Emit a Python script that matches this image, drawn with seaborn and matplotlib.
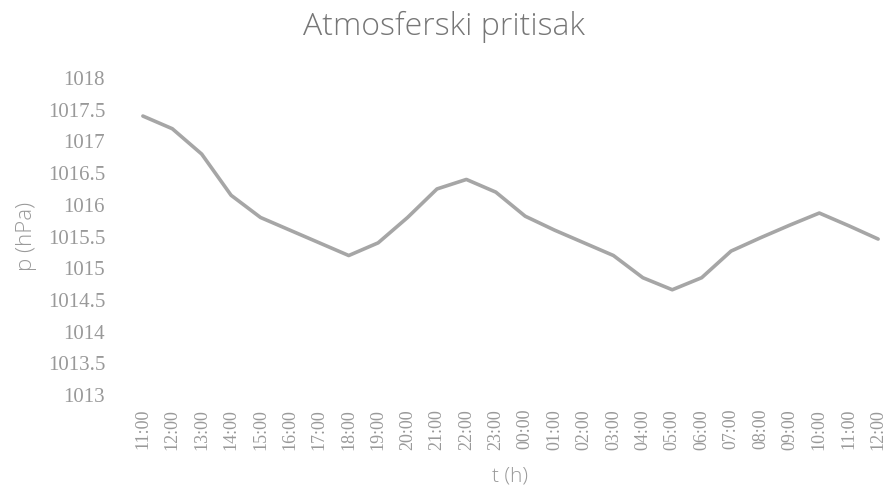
import matplotlib
matplotlib.use("Agg")
import matplotlib.pyplot as plt
import seaborn as sns
import pandas as pd

times = ["11:00", "12:00", "13:00", "14:00", "15:00", "16:00", "17:00", "18:00",
         "19:00", "20:00", "21:00", "22:00", "23:00", "00:00", "01:00", "02:00",
         "03:00", "04:00", "05:00", "06:00", "07:00", "08:00", "09:00", "10:00",
         "11:00", "12:00"]
pressure = [1017.4, 1017.2, 1016.8, 1016.15, 1015.8, 1015.6, 1015.4, 1015.2,
            1015.4, 1015.8, 1016.25, 1016.4, 1016.2, 1015.82, 1015.6, 1015.4,
            1015.2, 1014.85, 1014.66, 1014.85, 1015.27, 1015.48, 1015.68, 1015.87,
            1015.67, 1015.46]
yticks = [1013, 1013.5, 1014, 1014.5, 1015, 1015.5, 1016, 1016.5, 1017, 1017.5, 1018]
ytick_labels = ["1013", "1013.5", "1014", "1014.5", "1015", "1015.5", "1016",
                "1016.5", "1017", "1017.5", "1018"]

df = pd.DataFrame({"idx": range(len(times)), "p": pressure})

sns.set_theme(style="white")
plt.rcParams["font.family"] = ["Open Sans", "DejaVu Sans"]

W, H = 887, 494
fig = plt.figure(figsize=(W / 100, H / 100), dpi=100)
ax = fig.add_axes([137 / W, (H - 395) / H, (884 - 137) / W, (395 - 78) / H])

sns.lineplot(data=df, x="idx", y="p", ax=ax, color="#a6a6a6", linewidth=2.6)

ax.set_xlim(-0.2, 25.2)
ax.set_ylim(1013, 1018)
ax.set_xticks(range(len(times)))
ax.set_xticklabels(times, rotation=90, fontsize=13, color="#999999",
                   family=["Liberation Serif"])
ax.set_yticks(yticks)
ax.set_yticklabels(ytick_labels, fontsize=15, color="#999999",
                   family=["Liberation Serif"])
ax.tick_params(axis="y", length=0, pad=23)
ax.tick_params(axis="x", length=0, pad=10)
for s in ax.spines.values():
    s.set_visible(False)
ax.grid(False)

ax.set_xlabel("t (h)", fontsize=15, color="#9a9a9a", labelpad=12,
              fontweight="light")
ax.set_ylabel("p (hPa)", fontsize=16, color="#9a9a9a", labelpad=8,
              fontweight="light")
fig.text(0.5, 1 - 35 / H, "Atmosferski pritisak", ha="center", va="baseline",
         fontsize=23, color="#767676", fontweight="light")

fig.savefig("out.png", dpi=100)
